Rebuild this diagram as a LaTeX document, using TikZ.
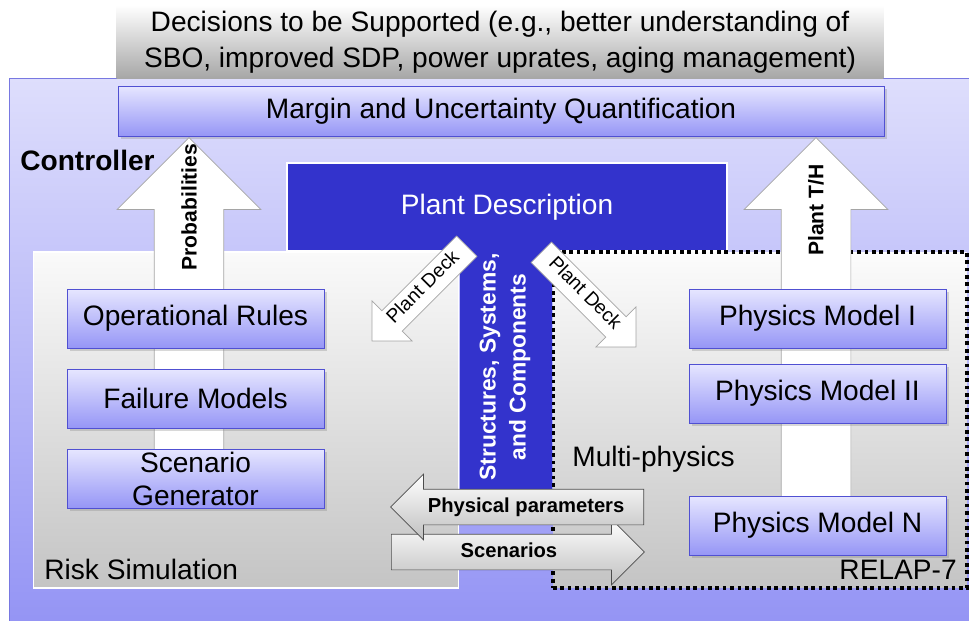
\documentclass[tikz,border=0pt]{standalone}
\usepackage{fontspec}
\setmainfont{Liberation Sans}
\usetikzlibrary{shapes.arrows,shadows}
\definecolor{ctrltop}{RGB}{222,222,252}
\definecolor{ctrlbot}{RGB}{146,146,244}
\definecolor{ctrlline}{RGB}{120,120,225}
\definecolor{boxtop}{RGB}{230,230,255}
\definecolor{boxbot}{RGB}{150,150,246}
\definecolor{boxline}{RGB}{80,80,210}
\definecolor{plantblue}{RGB}{51,51,204}
\definecolor{greytop}{RGB}{250,250,250}
\definecolor{greybot}{RGB}{196,196,196}
\definecolor{arrowline}{RGB}{165,165,165}

\begin{document}
\begin{tikzpicture}[x=0.02cm, y=-0.02cm]
  % Define styles
  \tikzstyle{model} = [rectangle, minimum width=5.14cm, minimum height=1.18cm, draw=boxline,
                       top color=boxtop, bottom color=boxbot, inner sep=0pt, align=center,
                       drop shadow={opacity=0.3, shadow xshift=1.5pt, shadow yshift=-1.5pt},
                       font=\fontsize{16}{19}\selectfont]
  \tikzstyle{panel} = [rectangle, minimum height=6.72cm, top color=greytop, bottom color=greybot]
  \tikzstyle{bigarrow} = [single arrow, draw=arrowline, fill=white, inner sep=0.69cm,
                          single arrow head extend=0.74cm, shape border rotate=90, anchor=tail]
  \tikzstyle{deckarrow} = [single arrow, draw=arrowline, fill=white, minimum height=2.68cm,
                           text height=0.21cm, text depth=0.06cm, inner xsep=1pt, inner ysep=0.145cm,
                           single arrow head extend=0.28cm, anchor=tail,
                           font=\fontsize{11}{12}\selectfont]
  \tikzstyle{flowarrow} = [single arrow, draw=black!70, top color=white, bottom color=black!25,
                           minimum height=5.06cm, text height=0.3cm, text depth=0.09cm,
                           inner xsep=1pt, inner ysep=0.155cm, single arrow head extend=0.3cm,
                           anchor=tail, font=\bfseries\fontsize{11.5}{13}\selectfont]
  \tikzstyle{tag} = [inner sep=0pt, font=\fontsize{16}{19}\selectfont]
  \tikzstyle{uplabel} = [rotate=90, inner sep=0pt, font=\bfseries\fontsize{12}{14}\selectfont]

  \useasboundingbox (0,0) rectangle (969,621);
  \clip (0,0) rectangle (969,621);

  % Frames
  \node (ctrl) [rectangle, draw=ctrlline, top color=ctrltop, bottom color=ctrlbot,
                minimum width=19.52cm, minimum height=11.24cm] at (497,359) {};
  \node (decide) [rectangle, top color=white, bottom color=black!35, minimum width=15.34cm,
                  minimum height=1.44cm, align=center, font=\fontsize{16}{20.5}\selectfont] at (500,42)
        {Decisions to be Supported (e.g., better understanding of\\SBO, improved SDP, power uprates, aging management)};
  \node (margin) [model, minimum width=15.32cm, minimum height=1.0cm] at (501,111)
        {Margin and Uncertainty Quantification};
  \node (plant) [rectangle, fill=plantblue, draw=white, line width=0.8pt, minimum width=8.8cm,
                 minimum height=1.76cm, text=white, font=\fontsize{16}{19}\selectfont] at (507,207) {Plant Description};
  \node (risk) [panel, draw=white, line width=1pt, minimum width=8.5cm] at (246,420) {};
  \node (multi) [panel, draw=black, line width=2.1pt, dash pattern=on 2.1pt off 2.1pt,
                 top color=greytop!60!white, minimum width=8.28cm] at (760,420) {};

  % Upward arrows
  \node (probarrow) [bigarrow, minimum height=7.14cm] at (189,495) {};
  \node (tharrow) [bigarrow, minimum height=7.84cm] at (816,530) {};

  % Models
  \node (oprules) [model] at (195.5,318.5) {Operational Rules};
  \node (failure) [model] at (195.5,398.5) {Failure Models};
  \node (scengen) [model, font=\fontsize{16}{18.8}\selectfont] at (195.5,478.5) {Scenario\\Generator};
  \node (physone) [model] at (817.5,318.5) {Physics Model I};
  \node (phystwo) [model] at (817.5,393.5) {Physics Model II};
  \node (physn) [model] at (817.5,525.5) {Physics Model N};

  \node (ssc) [rectangle, fill=plantblue, minimum width=1.84cm, minimum height=4.92cm] at (506,372) {};
  \node (ssclabel) [rotate=90, text=white, align=center, inner sep=0pt,
                    font=\bfseries\fontsize{13}{17}\selectfont] at (505,367) {Structures, Systems,\\and Components};

  % Plant deck arrows
  \node (deckleft) [deckarrow, rotate=45, shape border rotate=180] at (467,246) {Plant Deck};
  \node (deckright) [deckarrow, rotate=-45] at (541,252) {Plant Deck};

  % Exchange arrows
  \node (scen) [flowarrow] at (391,552) {Scenarios};
  \node (phys) [flowarrow, shape border rotate=180] at (644,507) {Physical parameters};

  % Labels
  \node (ctrllabel) [tag, anchor=west, font=\bfseries\fontsize{16}{19}\selectfont] at (20,160) {Controller};
  \node (problabel) [uplabel] at (189,207) {Probabilities};
  \node (thlabel) [uplabel] at (816,210) {Plant T/H};
  \node (risklabel) [tag, anchor=west] at (44,569) {Risk Simulation};
  \node (multilabel) [tag, anchor=west] at (572,459) {Multi-physics};
  \node (relaplabel) [tag, anchor=east] at (957,570) {RELAP-7};
\end{tikzpicture}
\end{document}
